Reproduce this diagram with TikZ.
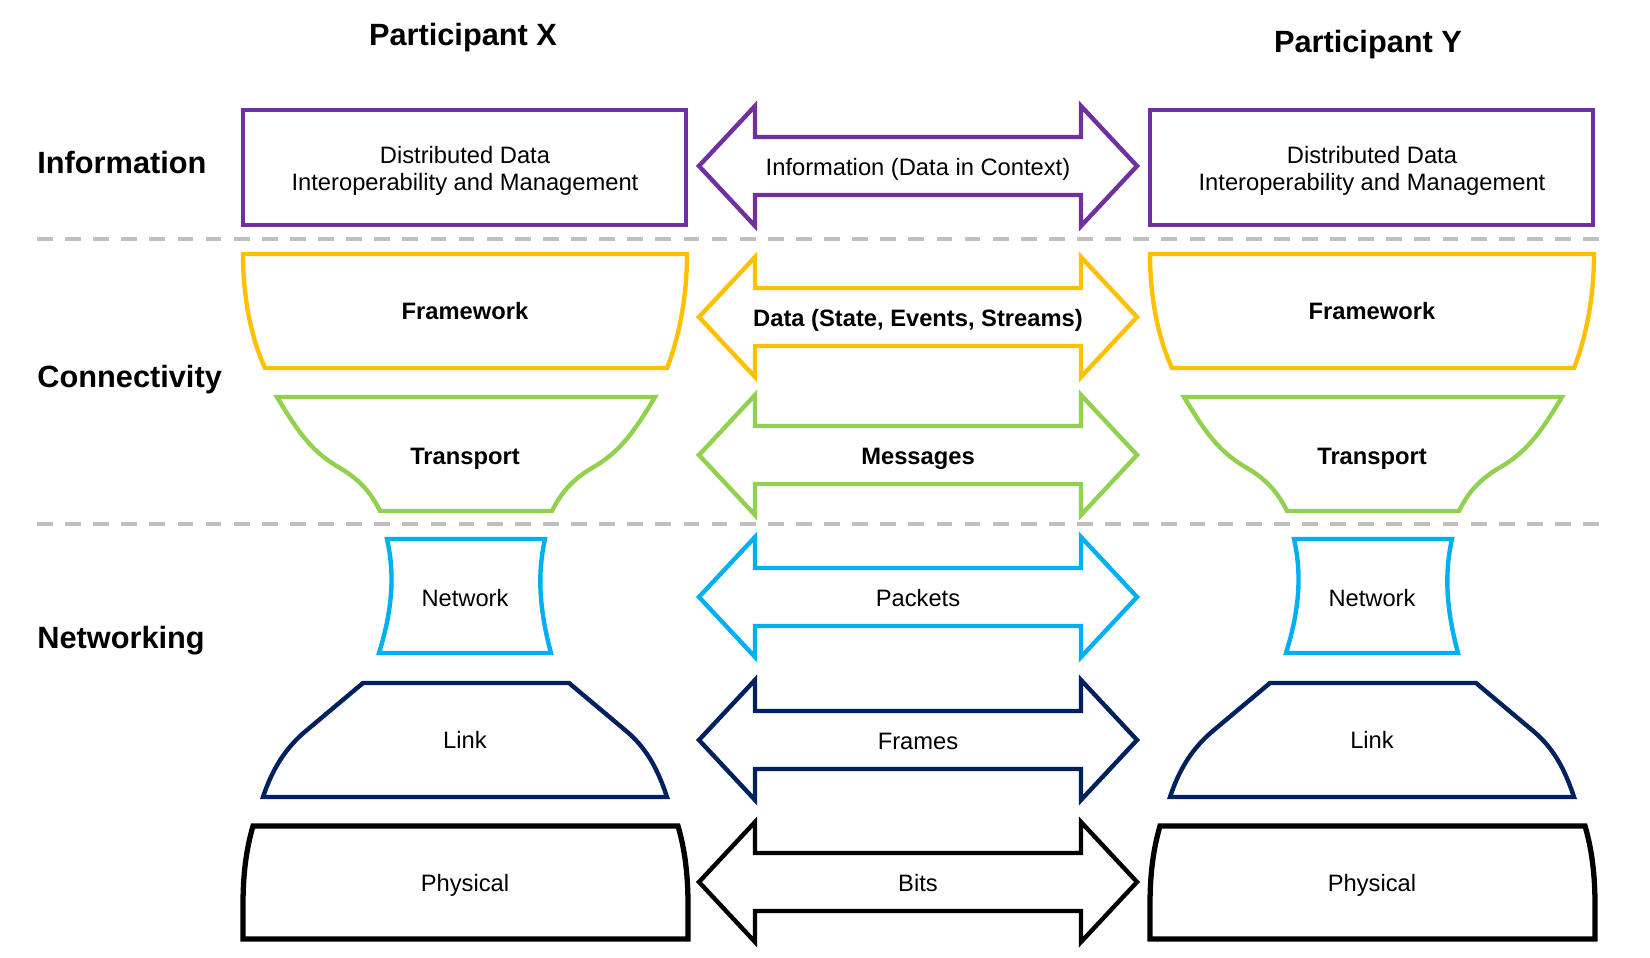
\documentclass[tikz,border=0pt]{standalone}
\usepackage{fontspec}
\setmainfont{Liberation Sans}
\usepackage{tikz}
\definecolor{infopurple}{RGB}{112,48,160}
\definecolor{framegold}{RGB}{255,192,0}
\definecolor{transgreen}{RGB}{146,208,80}
\definecolor{netblue}{RGB}{0,176,240}
\definecolor{linknavy}{RGB}{0,32,96}
\definecolor{sepgray}{RGB}{191,191,191}
\tikzset{
  layer/.style={line width=2.5pt, line join=miter},
  lbl/.style={font=\fontsize{13.5}{15.3}\selectfont, align=center, inner sep=0pt},
  lblbold/.style={lbl, font=\fontsize{13.5}{15.3}\selectfont\bfseries},
  heading/.style={font=\fontsize{17.5}{21}\selectfont\bfseries, inner sep=0pt},
  sepline/.style={sepgray, line width=2.3pt, dash pattern=on 9pt off 7pt}
}
% double block arrow between the two stacks
\newcommand{\flowarrow}[5]{%
  \draw[#3,layer] (699,#2) -- (755,#2-60) -- (755,#2-29) -- (1081,#2-29)
    -- (1081,#2-60) -- (1137,#2) -- (1081,#2+60) -- (1081,#2+29)
    -- (755,#2+29) -- (755,#2+60) -- cycle;%
  \node[#4,anchor=base] (#1) at (918,#2+9) {#5};%
}
% one participant's layer stack
\newcommand{\layerstack}[2]{%
  \begin{scope}[shift={(#1,0)}]
    \draw[infopurple,layer] (243,110) rectangle (686,225);
    \node[lbl] (#2info) at (465,171) {Distributed Data\\Interoperability and Management};
    \draw[framegold,layer] (243,254) -- (687,254) .. controls (687,300) and (678,340) .. (667,368)
      -- (265,368) .. controls (252,340) and (243,300) .. (243,254) -- cycle;
    \node[lblbold,anchor=base] (#2frame) at (465,319) {Framework};
    \draw[transgreen,layer] (277,397) -- (655,397) .. controls (634,432) and (620,452) .. (592,468)
      .. controls (570,481) and (560,495) .. (552,511) -- (380,511)
      .. controls (372,495) and (362,481) .. (340,468)
      .. controls (312,452) and (298,432) .. (277,397) -- cycle;
    \node[lblbold,anchor=base] (#2trans) at (465,464) {Transport};
    \draw[netblue,layer] (387,539) -- (545,539) .. controls (538,570) and (538,605) .. (551,653)
      -- (379,653) .. controls (394,605) and (394,570) .. (387,539) -- cycle;
    \node[lbl,anchor=base] (#2net) at (465,606) {Network};
    \draw[linknavy,layer] (363,683) -- (569,683) -- (625,730) .. controls (647,748) and (658,770) .. (667,797)
      -- (263,797) .. controls (272,770) and (285,748) .. (307,730) -- cycle;
    \node[lbl,anchor=base] (#2link) at (465,748) {Link};
    \draw[black,layer,line width=3pt] (253,826) -- (678,826) .. controls (685,850) and (688,875) .. (688,905)
      -- (688,939) -- (243,939) -- (243,905) .. controls (243,875) and (246,850) .. (253,826) -- cycle;
    \node[lbl,anchor=base] (#2phys) at (465,891) {Physical};
  \end{scope}%
}

\begin{document}
\begin{tikzpicture}[x=0.02cm,y=-0.02cm]
  \useasboundingbox (0,0) rectangle (1650,957);

  % headings
  \node[heading] (partx) at (463,38) {Participant X};
  \node[heading] (party) at (1368,45) {Participant Y};
  \node[heading,anchor=west] (rowinfo) at (37,163) {Information};
  \node[heading,anchor=west] (rowconn) at (37,380) {Connectivity};
  \node[heading,anchor=west] (rownet) at (37,641) {Networking};

  % separators
  \draw[sepline] (37,239) -- (1609,239);
  \draw[sepline] (37,524) -- (1609,524);

  % stacks
  \layerstack{0}{x}
  \layerstack{907}{y}

  % exchanges
  \flowarrow{ainfo}{166}{infopurple}{lbl}{Information (Data in Context)}
  \flowarrow{adata}{317}{framegold}{lblbold}{Data (State, Events, Streams)}
  \flowarrow{amsg}{455}{transgreen}{lblbold}{Messages}
  \flowarrow{apkt}{597}{netblue}{lbl}{Packets}
  \flowarrow{afrm}{740}{linknavy}{lbl}{Frames}
  \flowarrow{abits}{882}{black}{lbl}{Bits}

\end{tikzpicture}
\end{document}
